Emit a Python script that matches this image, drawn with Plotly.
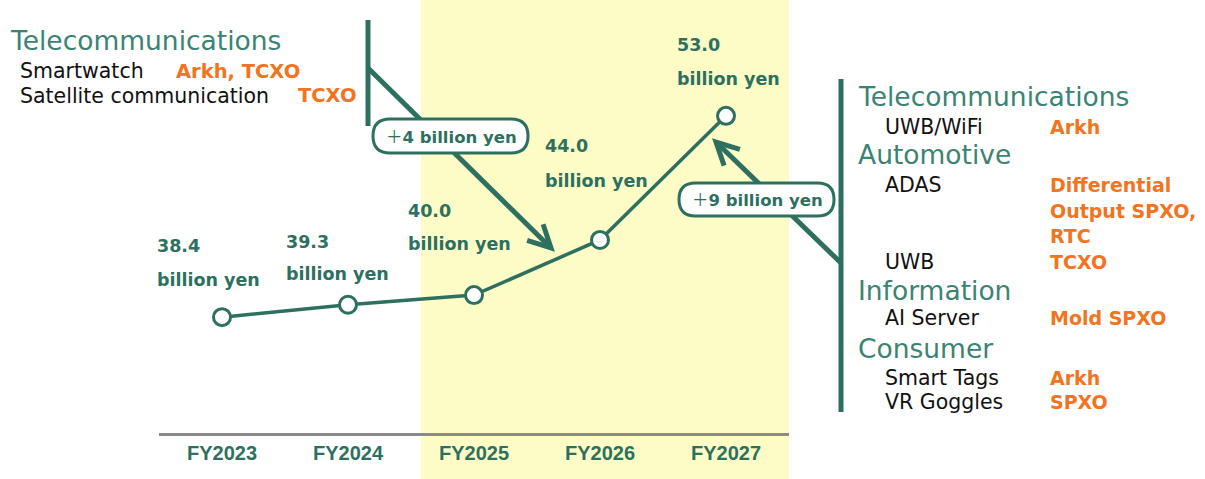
import math
import plotly.graph_objects as go

# ---------------- data ----------------
years = ["FY2023", "FY2024", "FY2025", "FY2026", "FY2027"]
sales = [38.4, 39.3, 40.0, 44.0, 53.0]
unit_label = "billion yen"

left_header = "Telecommunications"
left_items = ["Smartwatch", "Satellite communication"]
left_products = ["Arkh, TCXO", "TCXO"]

right_groups = ["Telecommunications", "Automotive", "Information", "Consumer"]
right_items = [["UWB/WiFi"], ["ADAS", "UWB"], ["AI Server"], ["Smart Tags", "VR Goggles"]]
right_products = [["Arkh"], [["Differential", "Output SPXO,", "RTC"], "TCXO"], ["Mold SPXO"], ["Arkh", "SPXO"]]

step_left = "4 billion yen"
step_right = "9 billion yen"

# ---------------- styling ----------------
GREEN = "#2d7060"
HEAD = "#3b8373"
ORANGE = "#f27420"
YELLOW = "#fdfcc6"
FONT = "DejaVu Sans"

L, T, W, H = 159, 0, 630, 433


def px(x):
    return (x - L) / W


def py(y):
    return (T + H - y) / H


fig = go.Figure()
fig.add_trace(go.Scatter(
    x=years, y=sales, mode="lines+markers",
    line=dict(color=GREEN, width=3.5),
    marker=dict(size=17, color="white", line=dict(color=GREEN, width=3)),
    hoverinfo="skip", showlegend=False,
))

shapes = []
# forecast band
shapes.append(dict(type="rect", xref="paper", yref="paper",
                   x0=px(421), x1=1.0, y0=py(479), y1=py(0),
                   fillcolor=YELLOW, line=dict(width=0), layer="below"))


def seg(x0, y0, x1, y1, w=5):
    return dict(type="line", xref="paper", yref="paper",
                x0=px(x0), y0=py(y0), x1=px(x1), y1=py(y1),
                line=dict(color=GREEN, width=w), layer="above")


def chevron(tip, tail, length=25, spread=27, w=5):
    ang = math.atan2(tail[1] - tip[1], tail[0] - tip[0])
    pts = []
    for s in (-1, 1):
        a = ang + s * math.radians(spread)
        pts.append((tip[0] + length * math.cos(a), tip[1] + length * math.sin(a)))
    path = "M {} {} L {} {} L {} {}".format(
        px(pts[0][0]), py(pts[0][1]), px(tip[0]), py(tip[1]), px(pts[1][0]), py(pts[1][1]))
    return dict(type="path", xref="paper", yref="paper", path=path,
                line=dict(color=GREEN, width=w), layer="above")


def pill(x0, y0, x1, y1, w=3):
    r = (y1 - y0) / 2
    P = lambda x, y: "{} {}".format(px(x), py(y))
    path = ("M " + P(x0 + r, y0) + " L " + P(x1 - r, y0) +
            " Q " + P(x1, y0) + " " + P(x1, y0 + r) +
            " Q " + P(x1, y1) + " " + P(x1 - r, y1) +
            " L " + P(x0 + r, y1) +
            " Q " + P(x0, y1) + " " + P(x0, y0 + r) +
            " Q " + P(x0, y0) + " " + P(x0 + r, y0) + " Z")
    return dict(type="path", xref="paper", yref="paper", path=path,
                fillcolor="white", line=dict(color=GREEN, width=w), layer="above")


# left bracket + arrow
shapes.append(seg(368, 20, 368, 126))
shapes.append(seg(368, 68, 551, 248))
shapes.append(chevron((551, 248), (368, 68)))
shapes.append(pill(373, 119, 528, 153))
# right bracket + arrow
shapes.append(seg(841, 79, 841, 412))
shapes.append(seg(841, 263, 716, 142))
shapes.append(chevron((716, 142), (841, 263)))
shapes.append(pill(679, 183, 834, 216))

ann = []


def text(x, yc, s, size, color, bold=False):
    ann.append(dict(xref="paper", yref="paper", x=px(x), y=py(yc),
                    xanchor="left", yanchor="middle", align="left", showarrow=False,
                    text=("<b>%s</b>" % s) if bold else s, borderpad=0,
                    font=dict(family=FONT, size=size, color=color)))


HS, IS, OS = 26.5, 20.5, 19
# left block
text(9, 40, left_header, HS, HEAD)
text(19, 71, left_items[0], IS, "#111111")
text(175, 71, left_products[0], OS + 0.5, ORANGE, True)
text(19, 96, left_items[1], IS, "#111111")
text(297, 96, left_products[1], OS + 0.5, ORANGE, True)

# right block
rows_y = {
    "Telecommunications": [97, [127]],
    "Automotive": [155, [185, 262]],
    "Information": [290, [318]],
    "Consumer": [348, [378, 402]],
}
for g, items, prods in zip(right_groups, right_items, right_products):
    hy, iys = rows_y[g]
    text(857, hy, g, HS, HEAD)
    for it, pr, iy in zip(items, prods, iys):
        text(884, iy, it, IS, "#111111")
        if isinstance(pr, list):
            for k, line in enumerate(pr):
                text(1049, iy + 25.5 * k, line, OS, ORANGE, True)
        else:
            text(1049, iy, pr, OS, ORANGE, True)

# value labels (relative to the data points)
offs = [(-66, 71, 34), (-63, 63, 32), (-67, 84, 33), (-56, 94, 35), (-50, 71, 34)]
VS = 17.5
for yr, v, (dx, dy, gap) in zip(years, sales, offs):
    ann.append(dict(x=yr, y=v, xref="x", yref="y", xanchor="left", yanchor="middle",
                    xshift=dx, yshift=dy, showarrow=False, borderpad=0,
                    text="<b>%.1f</b>" % v, font=dict(family=FONT, size=VS, color=GREEN)))
    ann.append(dict(x=yr, y=v, xref="x", yref="y", xanchor="left", yanchor="middle",
                    xshift=dx, yshift=dy - gap, showarrow=False, borderpad=0,
                    text="<b>%s</b>" % unit_label, font=dict(family=FONT, size=VS, color=GREEN)))

# step labels in pills
PLUS = "<span style=\"font-family:'Noto Sans CJK JP'\">＋</span>"
ann.append(dict(xref="paper", yref="paper", x=px(451), y=py(136), xanchor="center",
                yanchor="middle", showarrow=False, text=PLUS + "<b>%s</b>" % step_left,
                font=dict(family=FONT, size=16.5, color=GREEN)))
ann.append(dict(xref="paper", yref="paper", x=px(757), y=py(199), xanchor="center",
                yanchor="middle", showarrow=False, text=PLUS + "<b>%s</b>" % step_right,
                font=dict(family=FONT, size=16.5, color=GREEN)))

fig.update_layout(
    width=1205, height=479,
    margin=dict(l=L, r=1205 - L - W, t=T, b=479 - T - H),
    paper_bgcolor="white", plot_bgcolor="rgba(0,0,0,0)",
    shapes=shapes, annotations=ann, showlegend=False,
    xaxis=dict(type="category", range=[-0.5, 4.5], showgrid=False, zeroline=False,
               showline=True, linecolor="#8a8a8a", linewidth=3, ticks="",
               tickfont=dict(family="Liberation Sans Narrow, Liberation Sans", size=20, color=GREEN,
                             weight="bold"),
               fixedrange=True),
    yaxis=dict(range=[30, 61.4], visible=False, showgrid=False, zeroline=False, fixedrange=True),
)

fig.write_html("out.html")
